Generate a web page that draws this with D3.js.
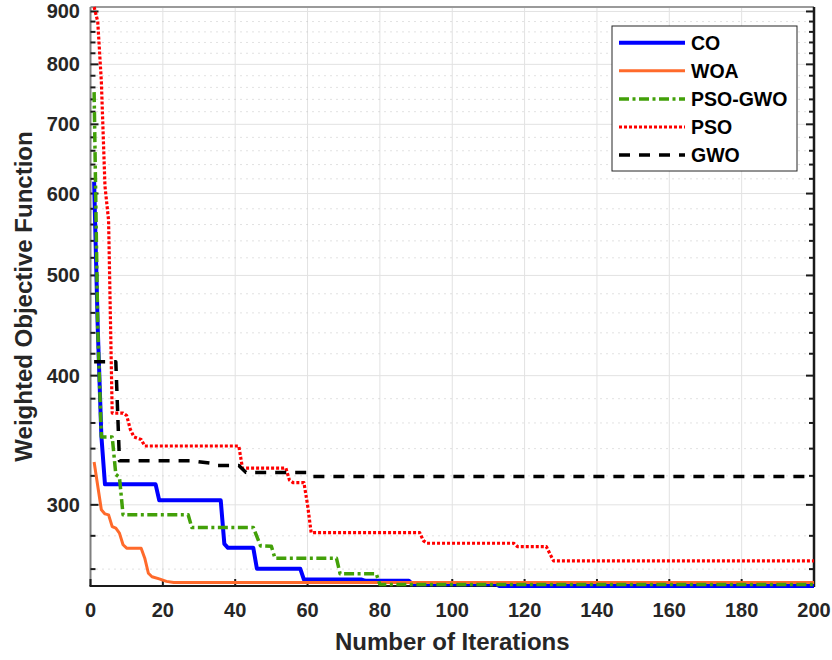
<!DOCTYPE html>
<meta charset="utf-8">
<script src="https://d3js.org/d3.v7.min.js"></script>
<style>
  body { margin: 0; background: #fff; }
  text { font-family: 'Liberation Sans', Arial, Helvetica, sans-serif; font-weight: bold; }
</style>
<div id="my_dataviz"></div>
<script>

// convergence curves: [iteration, weighted objective]
var coData = [[1,616],[2,445],[3,350],[4,314],[18,314],[19,303],[36,303],[37,275],[38,272.6],[45,272.6],[46,260.2],
  [58,260.2],[59,254],[75,254],[76,253.3],[88,253.3],[89,251.4],[112,251.4],[113,250.4],[200,250.4]];
var woaData = [[1,330],[3,296.7],[4,294],[5,293.4],[6,285.8],[7,284.8],[8,281.7],[9,274.5],[10,272.4],[14,272.4],
  [15,266.4],[16,257.6],[17,255.6],[19,254.4],[21,253],[23,252.4],[200,252.4]];
var psoGwoData = [[1,752],[2,445],[3,349],[6,349],[7,321],[8,319],[9,293.4],[27,293.4],[28,285.3],[45,285.3],
  [47,273.8],[50,273.5],[51,266.3],[68,266.3],[69,257.3],[79,257.3],[80,251.2],[200,251.2]];
var psoData = [[1,909],[2,880],[3,770],[4,610],[5,565],[6,368],[9,368],[10,366],[11,355],[12,349],[14,347],
  [15,342],[41,342],[42,325.6],[54,325.6],[55,317],[56,315.2],[59,315.2],[60,300],[61,282],[91,282],[92,277],
  [93,275.4],[117,275.4],[118,273.4],[126,273.4],[127,269],[128,264.8],[200,264.8]];
var gwoData = [[1,412.6],[7,412.6],[8,330.9],[28,330.9],[33,329.2],[35,327.5],[41,327.5],[43,322.4],[60,322.4],
  [61,319.5],[200,319.5]];

var seriesNames = ["CO", "WOA", "PSO-GWO", "PSO", "GWO"];
var xTicks = [0, 20, 40, 60, 80, 100, 120, 140, 160, 180, 200];
var yMajor = [300, 400, 500, 600, 700, 800, 900];
var yMinor = [260, 280, 320, 340, 360, 380, 420, 440, 460, 480, 520, 540, 560, 580, 620, 640, 660, 680,
  720, 740, 760, 780, 820, 840, 860, 880];

var styles = {
  "CO":      {data: coData,     color: "#0000ff", width: 4,   dash: null},
  "WOA":     {data: woaData,    color: "#ff6a2b", width: 3,   dash: null},
  "PSO-GWO": {data: psoGwoData, color: "#42a008", width: 3.5, dash: "10,3.5,3,3.5"},
  "PSO":     {data: psoData,    color: "#ff0000", width: 3.2, dash: "3,2"},
  "GWO":     {data: gwoData,    color: "#000000", width: 3.5, dash: "11,9"}
};

var W = 832, H = 660;
var pLeft = 90.5, pRight = 814, pTop = 7, pBottom = 586;

var svg = d3.select("#my_dataviz")
  .append("svg")
    .attr("width", W)
    .attr("height", H);

var x = d3.scaleLinear().domain([0, 200]).range([pLeft, pRight]);
var y = d3.scaleLog().domain([250.4, 909]).range([pBottom, pTop]);

// ---- grid ----
var grid = svg.append("g");
grid.selectAll("vgrid")
  .data(xTicks.slice(1, -1))
  .enter().append("line")
    .attr("x1", function(d){ return x(d) }).attr("x2", function(d){ return x(d) })
    .attr("y1", pTop).attr("y2", pBottom)
    .attr("stroke", "#e2e2e2").attr("stroke-width", 1);
grid.selectAll("hgrid")
  .data(yMajor)
  .enter().append("line")
    .attr("x1", pLeft).attr("x2", pRight)
    .attr("y1", function(d){ return y(d) }).attr("y2", function(d){ return y(d) })
    .attr("stroke", "#e2e2e2").attr("stroke-width", 1);
grid.selectAll("hminor")
  .data(yMinor)
  .enter().append("line")
    .attr("x1", pLeft).attr("x2", pRight)
    .attr("y1", function(d){ return y(d) }).attr("y2", function(d){ return y(d) })
    .attr("stroke", "#c4c4c4").attr("stroke-width", 1)
    .style("stroke-dasharray", "1,5");

// ---- axes frame ----
svg.append("line").attr("x1", pLeft).attr("x2", pRight).attr("y1", pTop).attr("y2", pTop)
  .attr("stroke", "#9a9a9a").attr("stroke-width", 2);
svg.append("line").attr("x1", pLeft).attr("x2", pLeft).attr("y1", pTop).attr("y2", pBottom)
  .attr("stroke", "#7f7f7f").attr("stroke-width", 2);
svg.append("line").attr("x1", pRight).attr("x2", pRight).attr("y1", pTop).attr("y2", pBottom + 1)
  .attr("stroke", "#1a1a1a").attr("stroke-width", 2.5);
svg.append("line").attr("x1", pLeft - 1).attr("x2", pRight).attr("y1", pBottom).attr("y2", pBottom)
  .attr("stroke", "#1a1a1a").attr("stroke-width", 2);

// ticks (inward, both sides for y)
var ticks = svg.append("g").attr("stroke", "#1a1a1a").attr("stroke-width", 2);
yMajor.forEach(function(d) {
  ticks.append("line").attr("x1", pLeft).attr("x2", pLeft + 8).attr("y1", y(d)).attr("y2", y(d));
  ticks.append("line").attr("x1", pRight).attr("x2", pRight - 8).attr("y1", y(d)).attr("y2", y(d));
});
yMinor.forEach(function(d) {
  ticks.append("line").attr("x1", pLeft).attr("x2", pLeft + 5).attr("y1", y(d)).attr("y2", y(d));
  ticks.append("line").attr("x1", pRight).attr("x2", pRight - 5).attr("y1", y(d)).attr("y2", y(d));
});
xTicks.forEach(function(d) {
  ticks.append("line").attr("x1", x(d)).attr("x2", x(d)).attr("y1", pBottom).attr("y2", pBottom - 7);
});

// tick labels
svg.selectAll("ylab")
  .data(yMajor)
  .enter().append("text")
    .attr("x", 80)
    .attr("y", function(d){ return y(d) })
    .attr("text-anchor", "end")
    .attr("dominant-baseline", "central")
    .style("font-size", "20px")
    .style("fill", "#262626")
    .text(function(d){ return d });
svg.selectAll("xlab")
  .data(xTicks)
  .enter().append("text")
    .attr("x", function(d){ return x(d) })
    .attr("y", 617)
    .attr("text-anchor", "middle")
    .style("font-size", "20px")
    .style("fill", "#262626")
    .text(function(d){ return d });

// axis titles
svg.append("text")
  .attr("x", (pLeft + pRight) / 2)
  .attr("y", 650)
  .attr("text-anchor", "middle")
  .style("font-size", "24px")
  .style("fill", "#262626")
  .text("Number of Iterations");
svg.append("text")
  .attr("transform", "translate(32," + ((pTop + pBottom) / 2) + ") rotate(-90)")
  .attr("text-anchor", "middle")
  .style("font-size", "24px")
  .style("fill", "#262626")
  .text("Weighted Objective Function");

// ---- curves ----
var line = d3.line()
  .x(function(d){ return x(d[0]) })
  .y(function(d){ return y(d[1]) });

seriesNames.forEach(function(name) {
  var s = styles[name];
  svg.append("path")
    .datum(s.data)
    .attr("fill", "none")
    .attr("stroke", s.color)
    .attr("stroke-width", s.width)
    .attr("stroke-linejoin", "round")
    .style("stroke-dasharray", s.dash)
    .attr("d", line);
});

// ---- legend ----
var lx = 612, ly = 26;
svg.append("rect")
  .attr("x", lx).attr("y", ly)
  .attr("width", 185).attr("height", 145)
  .attr("fill", "#fff")
  .attr("stroke", "#262626").attr("stroke-width", 1);

var leg = svg.selectAll("legrow")
  .data(seriesNames)
  .enter().append("g")
    .attr("transform", function(d, i){ return "translate(0," + (ly + 16.7 + i * 28.1) + ")" });
leg.append("line")
  .attr("x1", 619).attr("x2", 685)
  .attr("y1", 0).attr("y2", 0)
  .attr("stroke", function(d){ return styles[d].color })
  .attr("stroke-width", function(d){ return styles[d].width })
  .style("stroke-dasharray", function(d){ return styles[d].dash });
leg.append("text")
  .attr("x", 691)
  .attr("y", 0)
  .attr("dominant-baseline", "central")
  .style("font-size", "19.5px")
  .style("fill", "#000")
  .text(function(d){ return d });

</script>
